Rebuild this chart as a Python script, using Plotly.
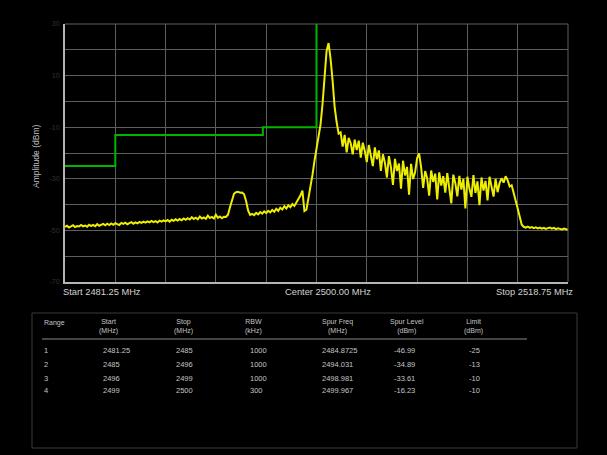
import numpy as np
import plotly.graph_objects as go

# ---------------- data ----------------
f_start, f_stop = 2481.25, 2518.75
amp_min, amp_max = -70, 30

amplitude_dbm = [
    -48.6, -48.2, -48.9, -48.4, -48.0, -48.7, -48.3, -48.5, -47.9, -48.4,
    -48.1, -48.6, -47.8, -48.3, -47.9, -48.4, -47.6, -48.2, -47.8, -47.5,
    -48.0, -47.4, -47.9, -47.3, -47.8, -47.2, -47.6, -47.9, -47.1, -47.5,
    -47.0, -47.6, -47.2, -46.8, -47.4, -46.9, -47.3, -46.7, -47.1, -46.6,
    -47.0, -46.5, -46.9, -46.3, -46.8, -46.4, -46.9, -46.2, -46.6, -46.1,
    -46.5, -46.0, -46.6, -45.9, -46.3, -45.7, -46.2, -45.6, -46.1, -45.4,
    -45.9, -45.3, -45.8, -44.9, -45.6, -45.1, -45.7, -44.6, -45.4, -45.0,
    -45.5, -44.3, -45.2, -44.8, -45.4, -43.9, -45.1, -44.6, -45.3, -44.7,
    -44.8, -43.9, -41.0, -37.8, -35.8, -35.2, -35.0, -35.4, -35.3, -36.0,
    -38.6, -42.3, -44.0,
    -43.6, -44.1, -43.2, -43.8, -42.9, -43.5, -42.6, -43.3, -42.4, -43.0,
    -42.1, -42.8, -41.6, -42.4, -41.2, -41.9, -40.6, -41.5, -40.3, -41.0,
    -39.8, -40.5, -39.2, -38.1, -36.5, -34.6,
    -42.5, -42.0, -38.0, -33.5, -28.5, -23.0, -18.5, -14.0, -9.0, -1.0,
    10.0, 19.5, 22.6, 16.5, 8.0, -2.0, -8.0, -12.5,
    -12.0, -17.5, -13.0, -19.8, -14.1, -16.2, -20.5, -14.8, -18.9, -15.2,
    -21.8, -16.0, -19.2, -23.5, -16.9, -20.8, -25.1, -17.8, -22.4, -19.0,
    -26.9, -20.5, -23.8, -29.5, -21.2, -25.6, -32.4, -22.3, -27.0, -24.1,
    -33.8, -23.0, -28.7, -25.4, -36.2, -24.2, -30.1, -27.5,
    -22.0, -20.2, -25.5,
    -33.5, -27.0, -29.8, -36.5, -26.8, -31.2, -28.0, -38.0, -27.5, -32.6,
    -29.0, -35.4, -27.8, -33.0, -39.5, -28.4, -31.7, -36.8, -28.9, -34.2,
    -30.0, -41.5, -29.2, -33.8, -37.0, -28.6, -35.5, -31.0, -40.2, -29.5,
    -34.6, -30.8, -38.4, -29.2, -33.1, -36.9, -30.0, -35.2, -31.6, -29.8,
    -31.5, -29.0, -30.5, -33.0, -32.5, -36.0, -38.5, -41.5, -45.0, -47.8,
    -48.6, -48.9, -48.5, -49.0, -48.7, -49.1, -48.8, -49.2, -48.9, -49.3,
    -49.0, -49.4, -49.1, -48.9, -49.3, -49.0, -49.5, -49.2, -49.4, -49.6,
    -49.3, -49.7, -49.8,
]
# uniform sweep points across the span
freq_mhz = np.linspace(f_start, f_stop, len(amplitude_dbm))

range_ids = ["1", "2", "3", "4"]
range_start = [2481.25, 2485, 2496, 2499]
range_stop = [2485, 2496, 2499, 2500]
range_start_txt = ["2481.25", "2485", "2496", "2499"]
range_stop_txt = ["2485", "2496", "2499", "2500"]
rbw_khz = ["1000", "1000", "1000", "300"]
spur_freq = ["2484.8725", "2494.031", "2498.981", "2499.967"]
spur_level = ["-46.99", "-34.89", "-33.61", "-16.23"]
limit_dbm = [-25, -13, -10, -10]

# ---------------- layout geometry ----------------
W, H = 607, 455
L, R, T, B = 65, 568, 24, 282


def px(x):
    return (x - L) / (R - L)


def py(y):
    return (B - y) / (B - T)


GRID = "#5e5e5e"
TXT = "#d2d2d2"
FONT = "Liberation Sans"

fig = go.Figure()

# limit line
lim_x, lim_y = [], []
for s, e, v in zip(range_start, range_stop, limit_dbm):
    lim_x += [s, e]
    lim_y += [v, v]
lim_x.append(range_stop[-1])
lim_y.append(amp_max)
fig.add_trace(go.Scatter(x=lim_x, y=lim_y, mode="lines",
                         line=dict(color="#00b400", width=2),
                         hoverinfo="skip", showlegend=False))

# measured trace
fig.add_trace(go.Scatter(x=freq_mhz, y=amplitude_dbm, mode="lines",
                         line=dict(color="#eeee00", width=2),
                         showlegend=False))

y_ticks = list(range(amp_min, amp_max + 1, 10))
y_text = [str(v) if (v - amp_min) % 20 == 0 else "" for v in y_ticks]

fig.update_layout(
    width=W, height=H,
    margin=dict(l=L, r=W - R, t=T, b=H - B),
    paper_bgcolor="#000000", plot_bgcolor="#000000",
    font=dict(family=FONT, color=TXT, size=10),
    showlegend=False,
    xaxis=dict(range=[f_start, f_stop], tick0=f_start, dtick=(f_stop - f_start) / 10,
               showticklabels=False, showgrid=True, gridcolor=GRID, gridwidth=1,
               zeroline=False, showline=True, linecolor="#b4b4b4", linewidth=2,
               ticks=""),
    yaxis=dict(range=[amp_min, amp_max], tickvals=y_ticks, ticktext=y_text,
               showgrid=True, gridcolor=GRID, gridwidth=1, zeroline=False,
               showline=True, linecolor="#b4b4b4", linewidth=2, ticks="",
               tickfont=dict(size=7, color="#333333"), ticklabelstandoff=2),
)

shapes = [
    dict(type="line", xref="paper", yref="paper", x0=0, x1=1, y0=1, y1=1,
         line=dict(color=GRID, width=1)),
    dict(type="line", xref="paper", yref="paper", x0=1, x1=1, y0=0, y1=1,
         line=dict(color=GRID, width=1)),
    # table frame
    dict(type="rect", xref="paper", yref="paper", x0=px(32), x1=px(577),
         y0=py(448), y1=py(313), line=dict(color="#3a3a3a", width=1)),
    # header separator
    dict(type="line", xref="paper", yref="paper", x0=px(42), x1=px(527),
         y0=py(339), y1=py(339), line=dict(color="#8a8a8a", width=1)),
]
fig.update_layout(shapes=shapes)

ann = []
# axis annotations
ann.append(dict(text="Start 2481.25 MHz", x=px(61), y=py(292), xanchor="left",
                yanchor="middle", font=dict(size=9.3, color=TXT)))
ann.append(dict(text="Center 2500.00 MHz", x=px(328), y=py(292), xanchor="center",
                yanchor="middle", font=dict(size=9.3, color=TXT)))
ann.append(dict(text="Stop 2518.75 MHz", x=px(575), y=py(292), xanchor="right",
                yanchor="middle", font=dict(size=9.3, color=TXT)))
ann.append(dict(text="Amplitude (dBm)", x=px(36), y=py(157), textangle=-90,
                xanchor="center", yanchor="middle", font=dict(size=8.5, color="#bdbdbd")))

# table header
TB = "#c4c4c4"
headers = [("Range", 42, "left"), ("Start<br>(MHz)", 108, "center"),
           ("Stop<br>(MHz)", 183, "center"), ("RBW<br>(kHz)", 253, "center"),
           ("Spur Freq<br>(MHz)", 337, "center"), ("Spur Level<br>(dBm)", 407, "center"),
           ("Limit<br>(dBm)", 473, "center")]
for text, x, anc in headers:
    ann.append(dict(text=text, x=px(x), y=py(326 if "<br>" in text else 323),
                    xanchor=anc, yanchor="middle", align="center",
                    font=dict(size=7, color=TB)))

row_y = [350, 364, 378, 391]
cols = [(range_ids, 42), (range_start_txt, 101), (range_stop_txt, 174),
        (rbw_khz, 248), (spur_freq, 320), (spur_level, 392),
        ([str(v) for v in limit_dbm], 467)]
for values, x in cols:
    for v, y in zip(values, row_y):
        ann.append(dict(text=v, x=px(x), y=py(y), xanchor="left", yanchor="middle",
                        font=dict(size=7.5, color=TB)))

for a in ann:
    a.update(xref="paper", yref="paper", showarrow=False)
fig.update_layout(annotations=ann)

fig.write_html("out.html", config={"displayModeBar": False},
               post_script="document.body.style.margin='0';document.body.style.overflow='hidden';")
